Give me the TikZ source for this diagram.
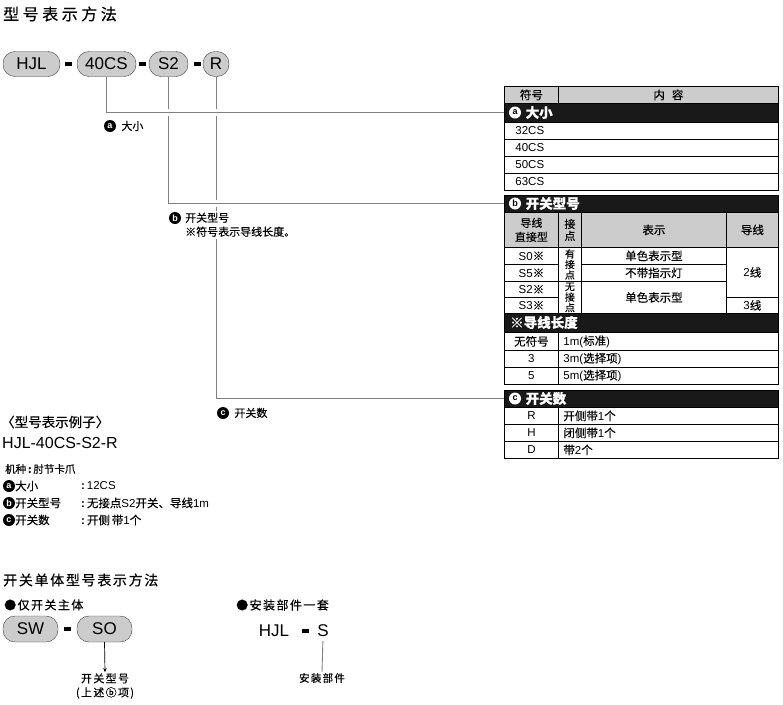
\documentclass[tikz,border=0pt]{standalone}
\usepackage{fontspec}
\setmainfont{Liberation Sans}
\newfontfamily\cjk[FakeBold=0.35]{Noto Sans CJK SC}
\newfontfamily\cjkwide[LetterSpace=12,FakeBold=0.35]{Noto Sans CJK SC}
\newfontfamily\cjktitle[LetterSpace=22,FakeBold=0.6]{Noto Sans CJK SC}
\usetikzlibrary{arrows.meta,positioning}

\begin{document}
\begin{tikzpicture}[
  x=1pt, y=-1pt,
  pill/.style={draw=black!75, fill=gray!40, rounded corners=12pt, minimum height=25pt,
    inner sep=0pt, font=\fontsize{17}{20}\selectfont},
  hyphenbar/.style={fill=black, minimum width=7pt, minimum height=3.5pt, inner sep=0pt},
  leadline/.style={draw=gray, line width=0.9pt, preaction={draw=white, line width=7pt}},
  badge/.style={circle, fill=black, text=white, minimum size=12pt, inner sep=0pt,
    font=\fontsize{9}{9}\selectfont\bfseries},
  wbadge/.style={badge, fill=white, text=black},
  notelbl/.style={fill=white, inner sep=2pt, anchor=west, align=left,
    font=\fontsize{11}{14}\selectfont\cjk},
  cell/.style={draw, line width=0.8pt, anchor=north west, inner sep=0pt, minimum height=17pt,
    font=\fontsize{11.5}{13}\selectfont},
  headcell/.style={cell, fill=gray!40},
  keycell/.style={cell, minimum width=54pt},
  rowa/.style={cell, minimum width=274pt, text width=252pt, inner xsep=11pt, align=left},
  rowr/.style={cell, minimum width=220pt, text width=210pt, inner xsep=5pt, align=left},
  bandbox/.style={cell, fill=black!90, minimum width=274pt},
  bandtext/.style={anchor=west, text=white, inner sep=0pt,
    font=\fontsize{13.5}{15}\selectfont\cjk\bfseries},
  plain/.style={anchor=west, inner sep=0pt}
]
\useasboundingbox (0,0) rectangle (783,704);

\node[plain, font=\fontsize{16}{18}\selectfont\cjktitle] (title) at (3,14) {型号表示方法};

% model code
\node[pill, minimum width=57pt] (hjl) at (31.5,64) {HJL};
\node[hyphenbar] (h1) at (68.5,64) {};
\node[pill, minimum width=59pt] (size) at (106.5,64) {40CS};
\node[hyphenbar] (h2) at (142.5,64) {};
\node[pill, minimum width=39pt] (switch) at (168.5,64) {S2};
\node[hyphenbar] (h3) at (197,64) {};
\node[pill, minimum width=26pt] (count) at (216,64) {R};

% table
\node[headcell, minimum width=54pt] (hsym) at (504,86) {\cjk 符号};
\node[headcell, minimum width=220pt] (hcont) at (558,86) {\cjk 内\hspace{7pt}容};

\node[bandbox, minimum height=19pt] (bara) at (504,103) {};
\node[wbadge] (ta) at (515,112.5) {a};
\node[bandtext] (tasize) at (525.5,112.5) {大小};
\foreach \v [count=\i from 0] in {32CS,40CS,50CS,63CS}
  \node[rowa] (a\i) at (504,{122+17*\i}) {\v};

\node[bandbox] (barb) at (504,195) {};
\node[wbadge] (tb) at (515,203.5) {b};
\node[bandtext] (tbswitch) at (525.5,203.5) {开关型号};
\node[headcell, minimum width=54pt, minimum height=35pt, align=center,
  font=\fontsize{11}{14}\selectfont\cjk] (hlead) at (504,212) {导线\\直接型};
\node[headcell, minimum width=23pt, minimum height=35pt, align=center,
  font=\fontsize{11}{12}\selectfont\cjk] (hcontact) at (558,212) {接\\点};
\node[headcell, minimum width=145pt, minimum height=35pt] (hshow) at (581,212) {\cjk 表示};
\node[headcell, minimum width=52pt, minimum height=35pt] (hwire) at (726,212) {\cjk 导线};
\foreach \k/\y/\h [count=\i] in {S0/247/17,S5/264/17,S2/281/16,S3/297/16}
  \node[keycell, minimum height=\h pt] (s\i) at (504,\y) {\k{\cjk ※}};
\node[cell, minimum width=23pt, minimum height=34pt, align=center,
  font=\fontsize{10}{10.5}\selectfont\cjk] (cyes) at (558,247) {有\\接\\点};
\node[cell, minimum width=23pt, minimum height=32pt, align=center,
  font=\fontsize{10}{10.5}\selectfont\cjk] (cno) at (558,281) {无\\接\\点};
\node[cell, minimum width=145pt] (d1) at (581,247) {\cjk 单色表示型};
\node[cell, minimum width=145pt] (d2) at (581,264) {\cjk 不带指示灯};
\node[cell, minimum width=145pt, minimum height=32pt] (d3) at (581,281) {\cjk 单色表示型};
\node[cell, minimum width=52pt, minimum height=50pt] (w2) at (726,247) {2{\cjk 线}};
\node[cell, minimum width=52pt, minimum height=16pt] (w3) at (726,297) {3{\cjk 线}};

\node[bandbox, minimum height=19pt] (barl) at (504,313) {};
\node[bandtext] (tlen) at (510,322.5) {※导线长度};
\foreach \k/\v/\y/\h [count=\i] in {{\cjk 无符号}/1m({\cjk 标准})/332/18,
    3/3m({\cjk 选择项})/350/17, 5/5m({\cjk 选择项})/367/17}
  {
  \node[keycell, minimum height=\h pt] (l\i) at (504,\y) {\k};
  \node[rowr, minimum height=\h pt] (lv\i) at (558,\y) {\v};
  }

\node[bandbox] (barc) at (504,390) {};
\node[wbadge] (tc) at (515,398.5) {c};
\node[bandtext] (tccount) at (525.5,398.5) {开关数};
\foreach \k/\v [count=\i from 0] in {R/{\cjk 开侧带}1{\cjk 个}, H/{\cjk 闭侧带}1{\cjk 个}, D/{\cjk 带}2{\cjk 个}}
  {
  \node[keycell] (k\k) at (504,{407+17*\i}) {\k};
  \node[rowr] (kv\k) at (558,{407+17*\i}) {\v};
  }

% leads from the code to the table
\draw[leadline] (count.south) |- (barc.west);
\draw[leadline] (switch.south) |- (barb.west);
\draw[leadline] (size.south) |- (bara.west);

\node[badge] (ba) at (110,126) {a};
\node[notelbl, right=3pt of ba] (lsize) {大小};
\node[badge] (bb) at (175,218) {b};
\node[notelbl, anchor=north west] (lswitch) at (183,210.5) {开关型号\\※符号表示导线长度。};
\node[badge] (bc) at (223,413) {c};
\node[notelbl, right=3pt of bc] (lcount) {开关数};

% example
\node[plain, font=\fontsize{13.5}{16}\selectfont\cjk] (extitle) at (1,422) {〈型号表示例子〉};
\node[plain, font=\fontsize{16}{18}\selectfont] (excode) at (2,443) {HJL-40CS-S2-R};
\node[plain, font=\fontsize{10.5}{12}\selectfont\cjk] (exkind) at (5,469) {机种\,{\bfseries:}\,肘节卡爪};
\foreach \t/\k/\v [count=\i from 0] in {a/大小/12CS,
    b/开关型号/{\cjk 无接点}S2{\cjk 开关、导线}1m, c/开关数/{\cjk 开侧\,带}1{\cjk 个}}
  {
  \node[badge] (e\t) at (9,{486+17*\i}) {\t};
  \node[plain, font=\fontsize{11.5}{13}\selectfont\cjk] (ek\t) at (15,{486+17*\i}) {\k};
  \node[plain, font=\fontsize{11.5}{13}\selectfont] (ev\t) at (81,{486+17*\i}) {\textbf{:}\,\v};
  }

% switch unit
\node[plain, font=\fontsize{14}{16}\selectfont\cjkwide] (unittitle) at (3,580) {开关单体型号表示方法};
\node[plain, font=\fontsize{12}{14}\selectfont\cjkwide] (onlybody) at (4,605) {●仅开关主体};
\node[plain, font=\fontsize{12}{14}\selectfont\cjkwide] (kittitle) at (236,605) {●安装部件一套};
\node[pill, minimum width=55pt, minimum height=26pt] (sw) at (30.5,629) {SW};
\node[hyphenbar] (h4) at (67.5,629) {};
\node[pill, minimum width=55pt, minimum height=26pt] (so) at (104.5,629) {SO};
\node[align=center, inner sep=1pt, font=\fontsize{11}{14}\selectfont\cjkwide] (sotype) at (105,686)
  {开关型号\\(上述ⓑ项)};
\draw[-{Stealth[length=4pt,width=3.5pt]}, line width=0.7pt] (so.south) -- (sotype.north);

\node[inner sep=0pt, font=\fontsize{17}{20}\selectfont] (kitbase) at (274,631) {HJL};
\node[hyphenbar] (h5) at (305.5,631) {};
\node[inner sep=0pt, font=\fontsize{17}{20}\selectfont] (kitpart) at (323,631) {S};
\node[inner sep=1pt, font=\fontsize{10.5}{12}\selectfont\cjkwide] (partlbl) at (322,678) {安装部件};
\draw[draw=gray, line width=0.9pt, shorten <=4pt] (kitpart.south) -- (partlbl.north);
\end{tikzpicture}
\end{document}
